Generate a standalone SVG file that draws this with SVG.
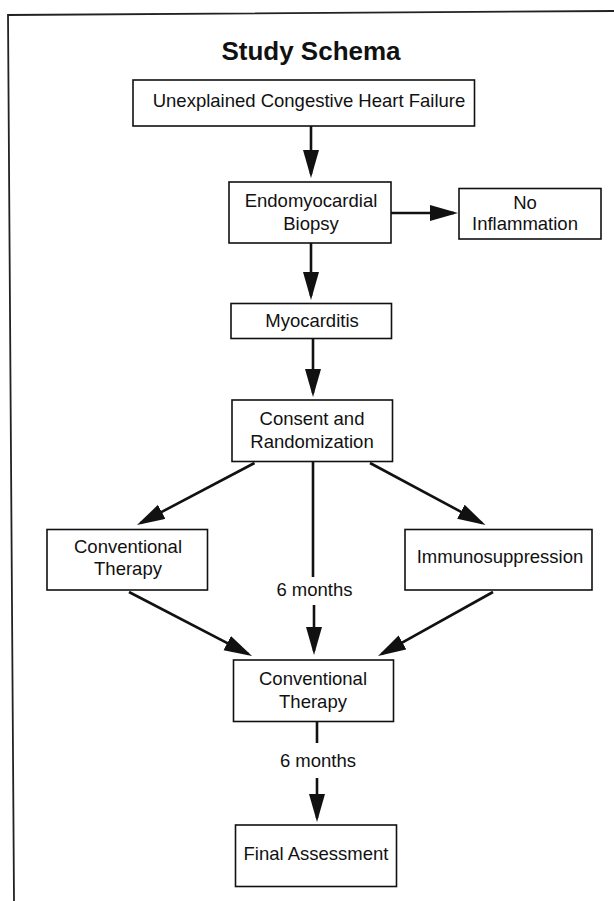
<svg xmlns="http://www.w3.org/2000/svg" width="614" height="901" viewBox="0 0 614 901">
<style>
.box{fill:#fff;stroke:#111;stroke-width:1.6}
.t{font-family:"Liberation Sans",Arial,sans-serif;font-size:18.5px;fill:#111;text-anchor:middle}
.title{font-family:"Liberation Sans",Arial,sans-serif;font-size:26px;font-weight:bold;fill:#111;text-anchor:middle}
.c{stroke:#111;stroke-width:2.6;fill:none}
.frame{stroke:#222;stroke-width:1.8;fill:none}
</style>
<defs>
<marker id="ah" markerUnits="userSpaceOnUse" markerWidth="30" markerHeight="17" refX="24" refY="8" orient="auto">
<path d="M0,0 L28,8 L0,16 z" fill="#111"/>
</marker>
</defs>
<rect width="614" height="901" fill="#fff"/>
<polyline class="frame" points="14,901 8,15 614,11"/>
<text class="title" x="311" y="60">Study Schema</text>

<g id="connectors">
<line class="c" x1="311" y1="126" x2="311" y2="174" marker-end="url(#ah)"/>
<line class="c" x1="391" y1="213" x2="454" y2="213" marker-end="url(#ah)"/>
<line class="c" x1="311" y1="243" x2="311" y2="296" marker-end="url(#ah)"/>
<line class="c" x1="313" y1="338" x2="313" y2="393" marker-end="url(#ah)"/>
<line class="c" x1="254.5" y1="463" x2="140.5" y2="523.1" marker-end="url(#ah)"/>
<line class="c" x1="370" y1="463" x2="482" y2="523.1" marker-end="url(#ah)"/>
<line class="c" x1="313" y1="462" x2="313" y2="577"/>
<text class="t" x="314.5" y="596">6 months</text>
<line class="c" x1="314" y1="605" x2="314" y2="651" marker-end="url(#ah)"/>
<line class="c" x1="129" y1="592" x2="248.5" y2="654.2" marker-end="url(#ah)"/>
<line class="c" x1="493" y1="592" x2="381.5" y2="654.1" marker-end="url(#ah)"/>
<line class="c" x1="317" y1="722" x2="317" y2="743"/>
<text class="t" x="318" y="767">6 months</text>
<line class="c" x1="317" y1="778" x2="317" y2="818" marker-end="url(#ah)"/>
</g>

<g id="chf">
<rect class="box" x="133" y="80" width="341.5" height="46"/>
<text class="t" x="309" y="107">Unexplained Congestive Heart Failure</text>
</g>
<g id="biopsy">
<rect class="box" x="229" y="182" width="162" height="61"/>
<text class="t" x="311" y="207">Endomyocardial</text>
<text class="t" x="311" y="230">Biopsy</text>
</g>
<g id="noinflammation">
<rect class="box" x="459" y="188.5" width="142" height="50.5"/>
<text class="t" x="525" y="209">No</text>
<text class="t" x="525" y="230">Inflammation</text>
</g>
<g id="myocarditis">
<rect class="box" x="231" y="303.5" width="160.5" height="35"/>
<text class="t" x="312" y="327">Myocarditis</text>
</g>
<g id="consent">
<rect class="box" x="232" y="400" width="160.5" height="61.5"/>
<text class="t" x="312" y="425">Consent and</text>
<text class="t" x="312" y="448">Randomization</text>
</g>
<g id="conventional1">
<rect class="box" x="47" y="529.5" width="160.5" height="60.5"/>
<text class="t" x="128" y="553">Conventional</text>
<text class="t" x="128" y="575">Therapy</text>
</g>
<g id="immuno">
<rect class="box" x="405" y="529.5" width="187" height="60.5"/>
<text class="t" x="500" y="563">Immunosuppression</text>
</g>
<g id="conventional2">
<rect class="box" x="233.5" y="660" width="160" height="61.5"/>
<text class="t" x="313" y="685">Conventional</text>
<text class="t" x="313" y="708">Therapy</text>
</g>
<g id="final">
<rect class="box" x="235.5" y="825" width="161" height="61.5"/>
<text class="t" x="316" y="860">Final Assessment</text>
</g>
</svg>
